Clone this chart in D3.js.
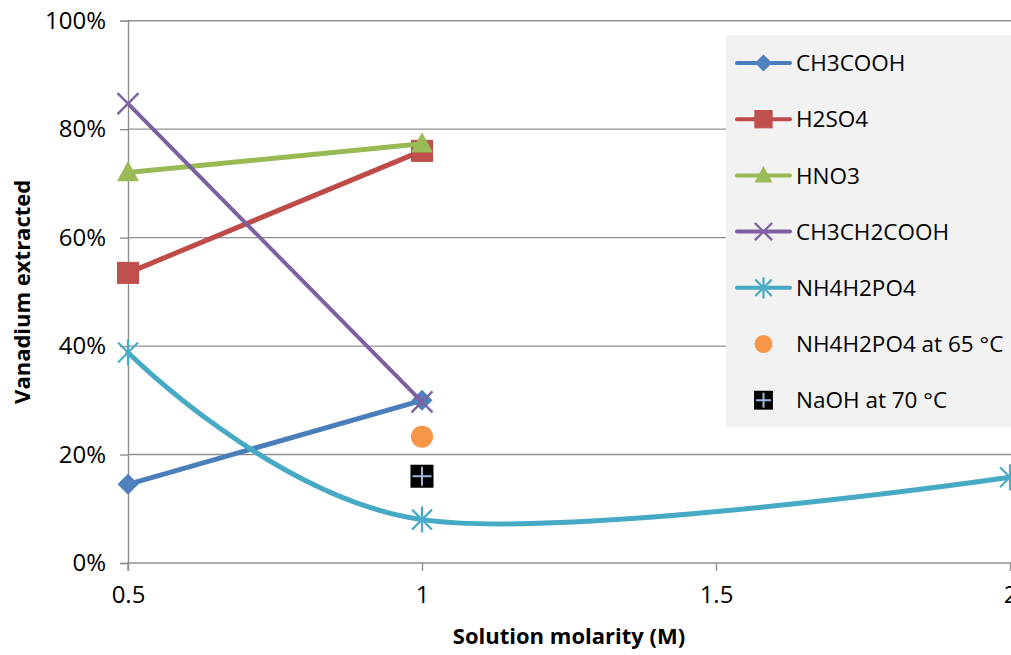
<!DOCTYPE html>
<html>
<head>
<meta charset="utf-8">
<script src="https://cdn.jsdelivr.net/npm/d3@7"></script>
<style>
  body { margin: 0; background: #fff; }
  svg { display: block; }
  text { font-family: "Open Sans", sans-serif; fill: #000; }
</style>
</head>
<body>
<svg id="chart" width="1011" height="655"></svg>
<script>
// Extraction yield (fraction) versus solution molarity (M)
const xTickValues = [0.5, 1, 1.5, 2];
const yTickValues = [0, 0.2, 0.4, 0.6, 0.8, 1.0];

const ch3coohX = [0.5, 1];
const ch3coohY = [0.145, 0.30];
const h2so4X = [0.5, 1];
const h2so4Y = [0.535, 0.76];
const hno3X = [0.5, 1];
const hno3Y = [0.72, 0.773];
const ch3ch2coohX = [0.5, 1];
const ch3ch2coohY = [0.847, 0.297];
const nh4h2po4X = [0.5, 1, 2];
const nh4h2po4Y = [0.388, 0.08, 0.158];
const nh4h2po4HotX = [1];
const nh4h2po4HotY = [0.233];
const naohHotX = [1];
const naohHotY = [0.16];

const seriesNames = ["CH3COOH", "H2SO4", "HNO3", "CH3CH2COOH", "NH4H2PO4",
  "NH4H2PO4 at 65 °C", "NaOH at 70 °C"];

const series = [
  { name: seriesNames[0], xs: ch3coohX, ys: ch3coohY, line: "#4A7EBB", fill: "#4F81BD", marker: "diamond", width: 5 },
  { name: seriesNames[1], xs: h2so4X, ys: h2so4Y, line: "#BE4B48", fill: "#C0504D", marker: "square", width: 5 },
  { name: seriesNames[2], xs: hno3X, ys: hno3Y, line: "#98B954", fill: "#9BBB59", marker: "triangle", width: 5 },
  { name: seriesNames[3], xs: ch3ch2coohX, ys: ch3ch2coohY, line: "#7D60A0", fill: "#8064A2", marker: "x", width: 4 },
  { name: seriesNames[4], xs: nh4h2po4X, ys: nh4h2po4Y, line: "#46AAC5", fill: "#4BACC6", marker: "star", width: 5, smooth: true },
  { name: seriesNames[5], xs: nh4h2po4HotX, ys: nh4h2po4HotY, line: null, fill: "#F79646", marker: "circle" },
  { name: seriesNames[6], xs: naohHotX, ys: naohHotY, line: null, fill: "#000000", marker: "plusbox" }
];

const svg = d3.select("#chart");
const W = 1011, H = 655;
const plot = { left: 128, right: 1010, top: 20.7, bottom: 563 };

const x = d3.scaleLinear().domain([0.5, 2]).range([plot.left, plot.right]);
const y = d3.scaleLinear().domain([0, 1]).range([plot.bottom, plot.top]);

svg.append("rect").attr("width", W).attr("height", H).attr("fill", "#fff");

const gridColor = "#8f8f8f";

// horizontal gridlines
svg.append("g")
  .selectAll("line")
  .data(yTickValues.filter(d => d > 0))
  .join("line")
  .attr("x1", plot.left).attr("x2", W)
  .attr("y1", d => y(d)).attr("y2", d => y(d))
  .attr("stroke", gridColor).attr("stroke-width", 1.4);

// y axis
const yAxis = svg.append("g")
  .attr("transform", `translate(${plot.left},0)`)
  .call(d3.axisLeft(y).tickValues(yTickValues).tickFormat(d3.format(".0%")).tickSize(8).tickPadding(14));
yAxis.select(".domain").attr("stroke", gridColor).attr("stroke-width", 1.4);
yAxis.selectAll(".tick line").attr("stroke", gridColor).attr("stroke-width", 1.4);
yAxis.selectAll(".tick text").attr("font-size", 24).attr("font-family", "Open Sans").attr("fill", "#000");

// x axis (last label sits on the right edge, as in the printed figure)
const xAxis = svg.append("g")
  .attr("transform", `translate(0,${plot.bottom})`)
  .call(d3.axisBottom(x).tickValues(xTickValues).tickFormat(d3.format("")).tickSize(8).tickPadding(15));
xAxis.select(".domain").attr("stroke", gridColor).attr("stroke-width", 1.4).attr("d", `M${plot.left},8V0H${W}`);
xAxis.selectAll(".tick line").attr("stroke", gridColor).attr("stroke-width", 1.4);
xAxis.selectAll(".tick text").attr("font-size", 24).attr("font-family", "Open Sans").attr("fill", "#000");

// axis titles
svg.append("text")
  .attr("transform", `translate(30,${(plot.top + plot.bottom) / 2}) rotate(-90)`)
  .attr("text-anchor", "middle")
  .attr("font-size", 22).attr("font-weight", 700)
  .text("Vanadium extracted");

svg.append("text")
  .attr("x", (plot.left + plot.right) / 2).attr("y", 644)
  .attr("text-anchor", "middle")
  .attr("font-size", 22).attr("font-weight", 700)
  .text("Solution molarity (M)");

// marker drawing
function drawMarker(g, kind, cx, cy, s, fill, line) {
  const m = g.append("g").attr("transform", `translate(${cx},${cy})`);
  if (kind === "diamond") {
    const r = 10.5 * s;
    m.append("path").attr("d", `M0,${-r}L${r},0L0,${r}L${-r},0Z`).attr("fill", fill);
  } else if (kind === "square") {
    const r = 10.5 * s;
    m.append("rect").attr("x", -r).attr("y", -r).attr("width", 2 * r).attr("height", 2 * r)
      .attr("fill", fill).attr("stroke", line).attr("stroke-width", 1);
  } else if (kind === "triangle") {
    const r = 11 * s;
    m.append("path").attr("d", `M0,${-r * 1.05}L${r},${r * 0.8}L${-r},${r * 0.8}Z`).attr("fill", fill);
  } else if (kind === "x") {
    const r = 10.5 * s;
    m.append("path").attr("d", `M${-r},${-r}L${r},${r}M${-r},${r}L${r},${-r}`)
      .attr("stroke", fill).attr("stroke-width", 2.4).attr("fill", "none");
  } else if (kind === "star") {
    const r = 10 * s;
    m.append("path").attr("d", `M${-r},${-r}L${r},${r}M${-r},${r}L${r},${-r}M0,${-r * 1.3}V${r * 1.3}`)
      .attr("stroke", fill).attr("stroke-width", 2.2).attr("fill", "none");
  } else if (kind === "circle") {
    m.append("circle").attr("r", 11 * s).attr("fill", fill);
  } else if (kind === "plusbox") {
    const r = 11.5 * s;
    m.append("rect").attr("x", -r).attr("y", -r).attr("width", 2 * r).attr("height", 2 * r).attr("fill", "#000");
    m.append("path").attr("d", `M${-r + 2},0H${r - 2}M0,${-r + 2}V${r - 2}`)
      .attr("stroke", "#9DB9DC").attr("stroke-width", 2).attr("fill", "none");
  }
}

// series lines and markers
const marks = svg.append("g");
series.forEach(sr => {
  const pts = sr.xs.map((v, i) => [v, sr.ys[i]]);
  const g = marks.append("g");
  if (sr.line) {
    const gen = d3.line().x(d => x(d[0])).y(d => y(d[1]))
      .curve(sr.smooth ? d3.curveCardinal.tension(0) : d3.curveLinear);
    g.append("path").attr("d", gen(pts)).attr("fill", "none")
      .attr("stroke", sr.line).attr("stroke-width", sr.width)
      .attr("stroke-linejoin", "round").attr("stroke-linecap", "round");
  }
  pts.forEach(p => drawMarker(g, sr.marker, x(p[0]), y(p[1]), 1, sr.fill, sr.line || sr.fill));
});

// legend
const legend = svg.append("g");
legend.append("rect").attr("x", 726).attr("y", 35).attr("width", W - 726).attr("height", 392)
  .attr("fill", "#f2f2f2");
series.forEach((sr, i) => {
  const cy = 63 + i * 56.2;
  const g = legend.append("g");
  if (sr.line) {
    g.append("line").attr("x1", 737).attr("x2", 790).attr("y1", cy).attr("y2", cy)
      .attr("stroke", sr.line).attr("stroke-width", 4).attr("stroke-linecap", "round");
  }
  drawMarker(g, sr.marker, 763.5, cy, 0.82, sr.fill, sr.line || sr.fill);
  g.append("text").attr("x", 796).attr("y", cy).attr("dy", "0.36em")
    .attr("font-size", 22.5).text(sr.name);
});
</script>
</body>
</html>
